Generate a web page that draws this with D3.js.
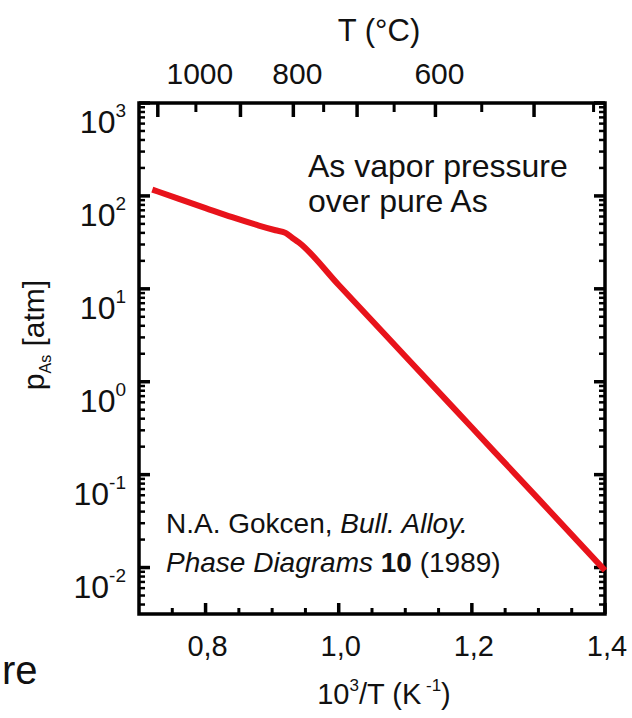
<!DOCTYPE html>
<html>
<head>
<meta charset="utf-8">
<script src="https://cdn.jsdelivr.net/npm/d3@7"></script>
<style>
  body { margin: 0; background: #fff; }
  svg { display: block; font-family: 'Liberation Sans', Arial, sans-serif; }
</style>
</head>
<body>
<div id="chart"></div>
<script>
// As vapor pressure over pure As
const invT = [0.72, 0.76, 0.80, 0.84, 0.88, 0.905, 0.92, 0.93, 0.94, 1.0, 1.1, 1.2, 1.3, 1.4];
const pAtm = [117, 93, 74, 59, 48, 42.7, 40, 35.5, 31.6, 11.0, 1.88, 0.321, 0.0548, 0.0093];

const bottomMajor = [0.8, 1.0, 1.2, 1.4];
const bottomLabels = ['0,8', '1,0', '1,2', '1,4'];
const bottomMinor = [0.75, 0.85, 0.9, 0.95, 1.05, 1.1, 1.15, 1.25, 1.3, 1.35];

const topMajorC = [1100, 900, 800, 700, 600, 500];
const topMinorC = [1000, 750, 650, 550, 450];
const topLabelC = [1000, 800, 600];

const decades = [-2, -1, 0, 1, 2, 3];

const width = 632;
const height = 718;

const svg = d3.select('#chart').append('svg').attr('width', width).attr('height', height);
svg.append('rect').attr('width', width).attr('height', height).attr('fill', '#fff');

const x = d3.scaleLinear().domain([0.7, 1.4]).range([139, 605]);
const y = d3.scaleLog().domain([Math.pow(10, -2.5), 1000]).range([614, 103]);
const toInv = (c) => 1000 / (c + 273.15);

const [x0, x1] = x.range();
const [y0, y1] = y.range();

// minor log ticks
const yMinor = [];
for (let d = -3; d < 3; d++) {
  for (let m = 2; m <= 9; m++) {
    const v = m * Math.pow(10, d);
    if (v > y.domain()[0] && v < y.domain()[1]) yMinor.push(v);
  }
}

const ticks = svg.append('g').attr('stroke', '#000');

// left + right axis ticks (inward)
ticks.selectAll('.ymaj').data(decades).enter().append('g').each(function (d) {
  const g = d3.select(this);
  g.append('line').attr('x1', x0).attr('x2', x0 + 11).attr('y1', y(Math.pow(10, d))).attr('y2', y(Math.pow(10, d))).attr('stroke-width', 3.5);
  g.append('line').attr('x1', x1).attr('x2', x1 - 11).attr('y1', y(Math.pow(10, d))).attr('y2', y(Math.pow(10, d))).attr('stroke-width', 3.5);
});
ticks.selectAll('.ymin').data(yMinor).enter().append('g').each(function (v) {
  const g = d3.select(this);
  g.append('line').attr('x1', x0).attr('x2', x0 + 6).attr('y1', y(v)).attr('y2', y(v)).attr('stroke-width', 2.5);
  g.append('line').attr('x1', x1).attr('x2', x1 - 6).attr('y1', y(v)).attr('y2', y(v)).attr('stroke-width', 2.5);
});

// bottom ticks
ticks.selectAll('.bmaj').data(bottomMajor).enter().append('line')
  .attr('x1', (d) => x(d)).attr('x2', (d) => x(d)).attr('y1', y0).attr('y2', y0 - 11).attr('stroke-width', 3.5);
ticks.selectAll('.bmin').data(bottomMinor).enter().append('line')
  .attr('x1', (d) => x(d)).attr('x2', (d) => x(d)).attr('y1', y0).attr('y2', y0 - 6).attr('stroke-width', 3);

// top ticks (temperature in C)
ticks.selectAll('.tmaj').data(topMajorC).enter().append('line')
  .attr('x1', (d) => x(toInv(d))).attr('x2', (d) => x(toInv(d))).attr('y1', y1).attr('y2', y1 + 14).attr('stroke-width', 3.5);
ticks.selectAll('.tmin').data(topMinorC).enter().append('line')
  .attr('x1', (d) => x(toInv(d))).attr('x2', (d) => x(toInv(d))).attr('y1', y1).attr('y2', y1 + 9).attr('stroke-width', 3);

// frame
svg.append('rect').attr('x', x0).attr('y', y1).attr('width', x1 - x0).attr('height', y0 - y1)
  .attr('fill', 'none').attr('stroke', '#000').attr('stroke-width', 3.5);

// curve
const line = d3.line().x((d, i) => x(invT[i])).y((d, i) => y(pAtm[i])).curve(d3.curveMonotoneX);
svg.append('path').datum(pAtm).attr('d', line)
  .attr('fill', 'none').attr('stroke', '#e8131b').attr('stroke-width', 6).attr('stroke-linejoin', 'round');

// left labels 10^n
const yl = svg.append('g').attr('fill', '#111');
decades.forEach((d) => {
  const t = yl.append('text').attr('x', 126).attr('y', y(Math.pow(10, d)) + 30).attr('text-anchor', 'end');
  t.append('tspan').attr('font-size', 32).text('10');
  t.append('tspan').attr('font-size', 19).attr('dy', -16).text(d < 0 ? '-' + Math.abs(d) : d);
});

// bottom labels
svg.append('g').selectAll('text').data(bottomMajor).enter().append('text')
  .attr('x', (d) => x(d) + 2).attr('y', 656).attr('text-anchor', 'middle').attr('font-size', 29).attr('fill', '#111')
  .text((d, i) => bottomLabels[i]);

// top labels
svg.append('g').selectAll('text').data(topLabelC).enter().append('text')
  .attr('x', (d) => x(toInv(d)) + 4).attr('y', 84).attr('text-anchor', 'middle').attr('font-size', 30).attr('fill', '#111')
  .text((d) => d);

// axis titles
svg.append('text').attr('x', 379).attr('y', 41).attr('text-anchor', 'middle').attr('font-size', 31).attr('fill', '#111').text('T (°C)');

const xt = svg.append('text').attr('x', 384).attr('y', 704).attr('text-anchor', 'middle').attr('fill', '#111').attr('font-size', 29);
xt.append('tspan').text('10');
xt.append('tspan').attr('font-size', 17).attr('dy', -13).text('3');
xt.append('tspan').attr('dy', 13).text('/T (K');
xt.append('tspan').attr('font-size', 17).attr('dy', -13).text(' -1');
xt.append('tspan').attr('dy', 13).text(')');

const ytl = svg.append('text').attr('transform', 'translate(44,335) rotate(-90)').attr('text-anchor', 'middle')
  .attr('fill', '#111').attr('font-size', 30);
ytl.append('tspan').text('p');
ytl.append('tspan').attr('font-size', 16).attr('dy', 7).text('As');
ytl.append('tspan').attr('dy', -7).text(' [atm]');

// annotations
const ann = svg.append('g').attr('fill', '#111').attr('font-size', 32);
ann.append('text').attr('x', 308).attr('y', 177).text('As vapor pressure');
ann.append('text').attr('x', 308).attr('y', 212).text('over pure As');

const cite = svg.append('g').attr('fill', '#111').attr('font-size', 28);
const c1 = cite.append('text').attr('x', 166).attr('y', 533);
c1.append('tspan').text('N.A. Gokcen, ');
c1.append('tspan').attr('font-style', 'italic').text('Bull. Alloy.');
const c2 = cite.append('text').attr('x', 166).attr('y', 572);
c2.append('tspan').attr('font-style', 'italic').text('Phase Diagrams ');
c2.append('tspan').attr('font-weight', 'bold').text('10');
c2.append('tspan').text(' (1989)');

// slide text at left edge
svg.append('text').attr('x', 2).attr('y', 684).attr('font-size', 40).attr('fill', '#111').text('re');
</script>
</body>
</html>
